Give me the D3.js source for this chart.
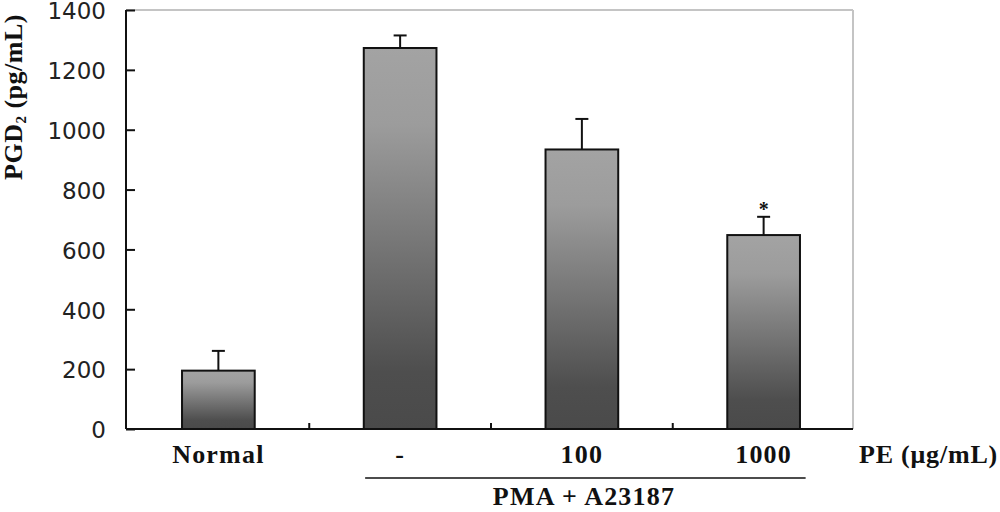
<!DOCTYPE html>
<html><head><meta charset="utf-8">
<script src="https://cdn.jsdelivr.net/npm/d3@7"></script>
<style>body{margin:0;background:#fff}svg{display:block}</style>
</head><body>
<svg id="c" width="1000" height="512"></svg>
<script>
const categories = ["Normal", "-", "100", "1000"];
const values = [195, 1273, 934, 648];
const errors = [66, 42, 102, 61];
const significance = ["", "", "", "*"];
const yTicks = [0, 200, 400, 600, 800, 1000, 1200, 1400];

const svg = d3.select("#c");
const L = 126, R = 853, T = 10, B = 429;
const x = d3.scaleBand().domain(categories).range([L + 1.5, R + 1.5]).padding(0);
const y = d3.scaleLinear().domain([0, 1400]).range([B, T]);
const barW = x.bandwidth() * 0.4;
const serif = "Liberation Serif, serif";

const defs = svg.append("defs");
const g = defs.append("linearGradient").attr("id", "grad").attr("x1", 0).attr("y1", 0).attr("x2", 0).attr("y2", 1);
g.append("stop").attr("offset", "0").attr("stop-color", "#a3a3a3");
g.append("stop").attr("offset", "0.2").attr("stop-color", "#9c9c9c");
g.append("stop").attr("offset", "0.85").attr("stop-color", "#4e4e4e");
g.append("stop").attr("offset", "1").attr("stop-color", "#4a4a4a");

// frame top/right
svg.append("line").attr("x1", L).attr("x2", R).attr("y1", T).attr("y2", T).attr("stroke", "#c4c4c4").attr("stroke-width", 2);
svg.append("line").attr("x1", R).attr("x2", R).attr("y1", T).attr("y2", B).attr("stroke", "#c4c4c4").attr("stroke-width", 2);

// bars
const cx = d => x(d) + x.bandwidth() / 2;
svg.selectAll("rect.bar").data(categories).enter().append("rect")
  .attr("x", d => cx(d) - barW / 2)
  .attr("y", (d, i) => y(values[i]))
  .attr("width", barW)
  .attr("height", (d, i) => B - y(values[i]))
  .attr("fill", "url(#grad)").attr("stroke", "#111").attr("stroke-width", 2);

// error bars
svg.selectAll("line.err").data(categories).enter().append("line")
  .attr("x1", cx).attr("x2", cx)
  .attr("y1", (d, i) => y(values[i])).attr("y2", (d, i) => y(values[i] + errors[i]))
  .attr("stroke", "#111").attr("stroke-width", 2);
svg.selectAll("line.cap").data(categories).enter().append("line")
  .attr("x1", d => cx(d) - 6.5).attr("x2", d => cx(d) + 6.5)
  .attr("y1", (d, i) => y(values[i] + errors[i])).attr("y2", (d, i) => y(values[i] + errors[i]))
  .attr("stroke", "#111").attr("stroke-width", 2);
svg.selectAll("text.sig").data(categories).enter().append("text")
  .attr("x", cx).attr("y", (d, i) => y(values[i] + errors[i]) - 1)
  .attr("text-anchor", "middle").attr("font-family", serif).attr("font-weight", "bold")
  .attr("font-size", 20).attr("fill", "#111").text((d, i) => significance[i]);

// y axis
const yAxis = svg.append("g").attr("transform", `translate(${L},0)`)
  .call(d3.axisRight(y).tickValues(yTicks).tickSize(9).tickFormat(d3.format("d")));
yAxis.select(".domain").attr("stroke", "#111").attr("stroke-width", 2).attr("d", `M0,${T}V${B}`);
yAxis.selectAll(".tick line").attr("stroke", "#111").attr("stroke-width", 2);
yAxis.selectAll(".tick text").attr("x", -20).attr("dy", "0.38em").attr("text-anchor", "end")
  .attr("font-family", "DejaVu Sans, sans-serif").attr("font-size", 23).attr("fill", "#222");

// x axis
const xAxis = svg.append("g").attr("transform", `translate(0,${B})`)
  .call(d3.axisBottom(x).tickSize(0).tickFormat(""));
xAxis.select(".domain").attr("stroke", "#111").attr("stroke-width", 2).attr("d", `M${L},0H${R}`);
xAxis.selectAll(".tick").remove();
const boundaries = categories.slice(1).map(d => x(d));
svg.selectAll("line.xt").data(boundaries).enter().append("line")
  .attr("x1", d => d).attr("x2", d => d).attr("y1", B).attr("y2", B - 6)
  .attr("stroke", "#111").attr("stroke-width", 2);

svg.selectAll("text.xl").data(categories).enter().append("text")
  .attr("x", cx).attr("y", 463).attr("text-anchor", "middle")
  .attr("font-family", serif).attr("font-weight", "bold").attr("font-size", 26)
  .attr("letter-spacing", 1.2).attr("fill", "#111").text(d => d);

svg.append("text").attr("x", 859).attr("y", 463).attr("font-family", serif)
  .attr("font-weight", "bold").attr("font-size", 26).attr("letter-spacing", 0.8)
  .attr("fill", "#111").text("PE (μg/mL)");

svg.append("line").attr("x1", cx(categories[1]) - 35).attr("x2", cx(categories[3]) + 42)
  .attr("y1", 478).attr("y2", 478).attr("stroke", "#111").attr("stroke-width", 1.5);
svg.append("text").attr("x", 584).attr("y", 505).attr("text-anchor", "middle")
  .attr("font-family", serif).attr("font-weight", "bold").attr("font-size", 26)
  .attr("letter-spacing", 1.2).attr("fill", "#111").text("PMA + A23187");

// y title
const yt = svg.append("text").attr("transform", "translate(22,97) rotate(-90)").attr("text-anchor", "middle")
  .attr("font-family", serif).attr("font-weight", "bold").attr("font-size", 26)
  .attr("letter-spacing", 0.5).attr("fill", "#111");
yt.append("tspan").text("PGD");
yt.append("tspan").attr("font-size", 15).attr("dy", 4).text("2");
yt.append("tspan").attr("dy", -4).text(" (pg/mL)");
</script>
</body></html>
